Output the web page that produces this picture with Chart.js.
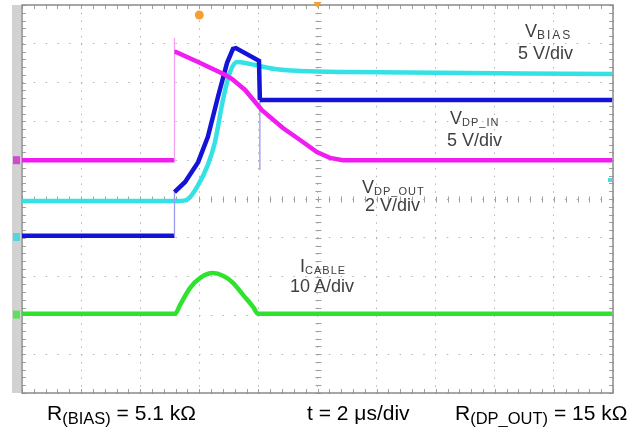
<!DOCTYPE html>
<html>
<head>
<meta charset="utf-8">
<script src="https://cdn.jsdelivr.net/npm/chart.js@4"></script>
<style>
  html, body { margin: 0; padding: 0; background: #fff; }
  #wrap { position: relative; width: 635px; height: 427px; overflow: hidden; font-family: 'Liberation Sans', Arial, sans-serif; }
  #scope { position: absolute; left: 0; top: 0; }
  .lbl { position: absolute; font-size: 18px; line-height: 1; color: #404040; white-space: nowrap; }
  .lbl .s { font-size: 11px; letter-spacing: 1px; position: relative; top: 2px; }
  .cap { position: absolute; font-size: 21px; line-height: 1; color: #000; white-space: nowrap; }
  .cap .s { font-size: 16.5px; position: relative; top: 4px; }
</style>
</head>
<body>
<div id="wrap">
  <canvas id="scope" width="635" height="427"></canvas>

  <div class="lbl" style="left:525px;top:22px">V<span class="s" style="font-size:12px;letter-spacing:2px">BIAS</span></div>
  <div class="lbl" style="left:518px;top:44px">5 V/div</div>

  <div class="lbl" style="left:450px;top:109px">V<span class="s">DP_IN</span></div>
  <div class="lbl" style="left:447px;top:131px">5 V/div</div>

  <div class="lbl" style="left:362px;top:178px">V<span class="s">DP_OUT</span></div>
  <div class="lbl" style="left:365px;top:196px">2 V/div</div>

  <div class="lbl" style="left:300px;top:257px">I<span class="s">CABLE</span></div>
  <div class="lbl" style="left:290px;top:277px">10 A/div</div>

  <div class="cap" style="left:47px;top:402px">R<span class="s">(BIAS)</span> = 5.1 kΩ</div>
  <div class="cap" style="left:307px;top:402px">t = 2 μs/div</div>
  <div class="cap" style="left:455px;top:402px">R<span class="s">(DP_OUT)</span> = 15 kΩ</div>
</div>

<script>
// time in μs (2 μs/div), level in screen divisions (centre = 0)
const vdpOutT = [0, 5.16, 5.16, 5.16, 5.21, 5.96, 6.87, 7.11, 7.55, 8.12, 8.83, 9.41, 9.98, 10.42, 10.86, 19.97];
const vdpOutV = [1.0, 1.0, 4.15, 3.79, 3.79, 3.53, 3.20, 3.09, 2.81, 2.29, 1.83, 1.52, 1.21, 1.06, 1.0, 1.0];

const vdpInT = [0, 5.16, 5.16, 5.52, 5.96, 6.29, 6.63, 6.94, 7.14, 7.24, 8.02, 8.05, 8.05, 8.05, 19.97];
const vdpInV = [-0.95, -0.95, 0.18, 0.44, 0.95, 1.60, 2.63, 3.51, 3.87, 3.89, 3.56, 2.55, 0.75, 2.55, 2.55];

const vbiasT = [0, 5.35, 5.62, 5.96, 6.29, 6.53, 6.80, 7.04, 7.28, 7.72, 8.56, 9.41, 11.10, 19.97];
const vbiasV = [-0.05, -0.05, 0.0, 0.36, 0.88, 1.47, 2.55, 3.27, 3.53, 3.48, 3.35, 3.30, 3.27, 3.22];

const icableT = [0, 5.18, 5.35, 5.69, 6.02, 6.46, 6.80, 7.14, 7.48, 7.82, 7.99, 19.97];
const icableV = [-2.96, -2.96, -2.73, -2.29, -2.04, -1.91, -1.98, -2.16, -2.47, -2.78, -2.96, -2.96];

// channel ground markers on the left strip
const markerLevels = [1.0, -0.98, -2.98];
const markerColors = ['#d04ad0', '#4fd8e0', '#5ee05e'];

const toPoints = (ts, vs) => ts.map((t, i) => ({x: t, y: vs[i]}));

// vertical jumps are drawn as thin, pale lines like on the scope
const trace = (label, ts, vs, color, pale, extra) => Object.assign({
    label: label,
    data: toPoints(ts, vs),
    borderColor: color,
    borderWidth: 4.5,
    pointRadius: 0,
    tension: 0,
    segment: {
        borderWidth: ctx => ctx.p0.x === ctx.p1.x ? 1.3 : undefined,
        borderColor: ctx => ctx.p0.x === ctx.p1.x ? pale : undefined,
    },
}, extra || {});

const scopeFrame = {
    id: 'scopeFrame',
    beforeDatasetsDraw(chart) {
        const {ctx, chartArea: a, scales: {x, y}} = chart;
        ctx.save();
        // grey strip at the left
        ctx.fillStyle = '#d2d2d2';
        ctx.fillRect(a.left - 10, a.top, 9, a.bottom - a.top);

        // minor ticks on frame and centre lines
        ctx.strokeStyle = '#a0a0a0';
        ctx.lineWidth = 1;
        ctx.beginPath();
        const cy = Math.round(y.getPixelForValue(0)) + 0.5;
        const cx = Math.round(x.getPixelForValue(10)) + 0.5;
        for (let i = 0; i <= 50; i++) {
            const px = Math.round(x.getPixelForValue(i * 0.4)) + 0.5;
            ctx.moveTo(px, a.bottom); ctx.lineTo(px, a.bottom - 4);
            ctx.moveTo(px, a.top); ctx.lineTo(px, a.top + 4);
            ctx.moveTo(px, cy - 3); ctx.lineTo(px, cy + 3);
        }
        for (let i = 0; i <= 50; i++) {
            const py = Math.round(y.getPixelForValue(-5 + i * 0.2)) + 0.5;
            ctx.moveTo(a.left, py); ctx.lineTo(a.left + 4, py);
            ctx.moveTo(a.right, py); ctx.lineTo(a.right - 4, py);
            ctx.moveTo(cx - 3, py); ctx.lineTo(cx + 3, py);
        }
        ctx.stroke();

        ctx.strokeStyle = '#8a8a8a';
        ctx.lineWidth = 1.5;
        ctx.strokeRect(a.left, a.top, a.right - a.left, a.bottom - a.top);
        ctx.restore();
    },
    afterDatasetsDraw(chart) {
        const {ctx, chartArea: a, scales: {x, y}} = chart;
        ctx.save();
        markerLevels.forEach((lv, i) => {
            const py = y.getPixelForValue(lv);
            ctx.fillStyle = markerColors[i];
            ctx.fillRect(a.left - 9, py - 4, 7, 8);
        });
        // trigger markers
        ctx.fillStyle = '#f5a033';
        ctx.beginPath();
        ctx.arc(x.getPixelForValue(6), a.top + 10, 4.5, 0, Math.PI * 2);
        ctx.fill();
        const tx = x.getPixelForValue(10);
        ctx.beginPath();
        ctx.moveTo(tx - 4, a.top - 3); ctx.lineTo(tx + 4, a.top - 3); ctx.lineTo(tx, a.top + 3);
        ctx.fill();
        // offscreen marker at right
        ctx.fillStyle = '#4fd8e0';
        ctx.fillRect(a.right - 5, y.getPixelForValue(0.49) - 2, 4, 4);
        ctx.restore();
    }
};

new Chart(document.getElementById('scope').getContext('2d'), {
    type: 'line',
    data: {
        datasets: [
            trace('VDP_OUT', vdpOutT, vdpOutV, '#f01cf0', '#f6a0f6'),
            trace('VDP_IN', vdpInT, vdpInV, '#1414d8', '#9a9af0'),
            trace('VBIAS', vbiasT, vbiasV, '#34e2e6', '#9af0f2', {cubicInterpolationMode: 'monotone'}),
            trace('ICABLE', icableT, icableV, '#2ee22e', '#9af09a', {cubicInterpolationMode: 'monotone'}),
        ],
    },
    options: {
        responsive: false,
        animation: false,
        layout: {padding: {left: 22, right: 22, top: 5, bottom: 34}},
        plugins: {
            legend: {display: false},
            tooltip: {enabled: false},
        },
        scales: {
            x: {
                type: 'linear', min: 0, max: 20,
                ticks: {display: false, stepSize: 2},
                grid: {color: '#b4b4b4', drawTicks: false, tickLength: 0},
                border: {display: false, dash: [1.5, 6.26]},
            },
            y: {
                type: 'linear', min: -5, max: 5,
                ticks: {display: false, stepSize: 1},
                grid: {color: '#b4b4b4', drawTicks: false, tickLength: 0},
                border: {display: false, dash: [1.5, 10.3]},
            },
        },
    },
    plugins: [scopeFrame],
});
</script>
</body>
</html>
